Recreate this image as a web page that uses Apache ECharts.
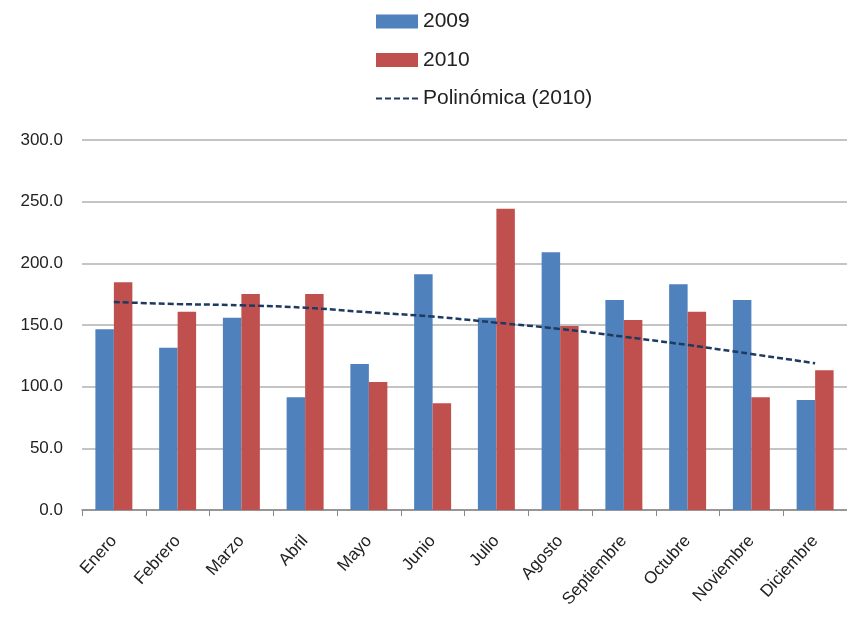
<!DOCTYPE html>
<html>
<head>
<meta charset="utf-8">
<script src="https://cdn.jsdelivr.net/npm/echarts@6/dist/echarts.min.js"></script>
<style>
  html, body { margin: 0; padding: 0; background: #fff; }
  #chart { width: 847px; height: 618px; }
</style>
</head>
<body>
<div id="chart"></div>
<script>
var months = ['Enero', 'Febrero', 'Marzo', 'Abril', 'Mayo', 'Junio', 'Julio', 'Agosto', 'Septiembre', 'Octubre', 'Noviembre', 'Diciembre'];
var values2009 = [146.5, 131.6, 155.9, 91.4, 118.4, 191.1, 155.9, 208.9, 170.3, 183.0, 170.3, 89.2];
var values2010 = [184.6, 160.8, 175.1, 175.1, 103.8, 86.5, 244.3, 149.2, 154.0, 160.8, 91.4, 113.3];
var trend2010 = [168.6, 167.0, 166.0, 164.0, 160.3, 156.8, 151.9, 146.8, 140.5, 133.8, 126.5, 119.0];
var yTicks = { min: 0, max: 300, interval: 50 };

var chart = echarts.init(document.getElementById('chart'));
var font = 'Liberation Sans';

var option = {
    animation: false,
    textStyle: { fontFamily: font },
    legend: {
        orient: 'vertical',
        left: 370,
        top: 6,
        itemWidth: 42,
        itemHeight: 14,
        itemGap: 17.5,
        textStyle: { fontSize: 21, color: '#222', fontFamily: font },
        data: [
            { name: '2009', icon: 'rect' },
            { name: '2010', icon: 'rect' },
            { name: 'Polinómica (2010)', itemStyle: { opacity: 0 } }
        ]
    },
    grid: {
        left: 82,
        right: -2,
        top: 140,
        bottom: 108
    },
    xAxis: {
        type: 'category',
        data: months,
        boundaryGap: true,
        axisLine: { lineStyle: { color: '#888', width: 1.5 } },
        axisTick: { show: true, length: 6, lineStyle: { color: '#888' } },
        axisLabel: {
            rotate: 48,
            fontSize: 17,
            color: '#222',
            margin: 28,
            interval: 0
        }
    },
    yAxis: {
        type: 'value',
        min: yTicks.min,
        max: yTicks.max,
        interval: yTicks.interval,
        axisLine: { show: false },
        axisTick: { show: false },
        axisLabel: {
            fontSize: 17,
            color: '#222',
            margin: 19,
            formatter: function (v) { return v.toFixed(1); }
        },
        splitLine: { lineStyle: { color: '#b0b0b0', width: 1.5 } }
    },
    series: [{
        name: '2009',
        type: 'bar',
        data: values2009,
        barGap: '0%',
        barCategoryGap: '42%',
        itemStyle: { color: '#4F81BD' }
    }, {
        name: '2010',
        type: 'bar',
        data: values2010,
        itemStyle: { color: '#C0504D' }
    }, {
        name: 'Polinómica (2010)',
        type: 'line',
        data: trend2010,
        smooth: true,
        symbol: 'none',
        lineStyle: { color: '#1F3A60', width: 2.5, type: [6, 3] },
        itemStyle: { color: '#1F3A60' }
    }]
};
chart.setOption(option);
</script>
</body>
</html>
